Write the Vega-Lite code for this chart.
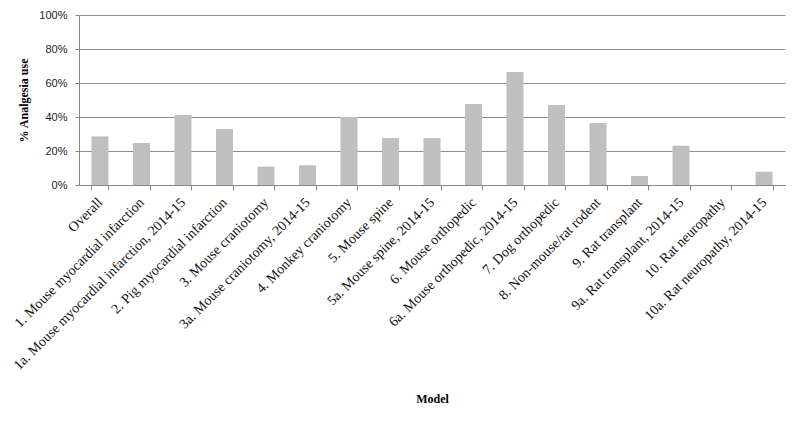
{
  "$schema": "https://vega.github.io/schema/vega-lite/v6.json",
  "width": 706,
  "height": 170,
  "autosize": {"type": "none"},
  "padding": {"left": 79, "top": 15, "right": 14, "bottom": 236},
  "background": "white",
  "data": {"values": [
    {"model": "Overall", "pct": 28.6},
    {"model": "1. Mouse myocardial infarction", "pct": 24.7},
    {"model": "1a. Mouse myocardial infarction, 2014-15", "pct": 41.2},
    {"model": "2. Pig myocardial infarction", "pct": 32.9},
    {"model": "3. Mouse craniotomy", "pct": 10.8},
    {"model": "3a. Mouse craniotomy, 2014-15", "pct": 11.6},
    {"model": "4. Monkey craniotomy", "pct": 40.0},
    {"model": "5. Mouse spine", "pct": 27.6},
    {"model": "5a. Mouse spine, 2014-15", "pct": 27.6},
    {"model": "6. Mouse orthopedic", "pct": 47.6},
    {"model": "6a. Mouse orthopedic, 2014-15", "pct": 66.5},
    {"model": "7. Dog orthopedic", "pct": 47.1},
    {"model": "8. Non-mouse/rat rodent", "pct": 36.5},
    {"model": "9. Rat transplant", "pct": 5.3},
    {"model": "9a. Rat transplant, 2014-15", "pct": 23.1},
    {"model": "10. Rat neuropathy", "pct": 0},
    {"model": "10a. Rat neuropathy, 2014-15", "pct": 7.8}
  ]},
  "mark": {"type": "bar", "color": "#bfbfbf"},
  "encoding": {
    "x": {
      "field": "model", "type": "nominal", "sort": null,
      "scale": {"paddingInner": 0.59, "paddingOuter": 0.3},
      "axis": {
        "title": "Model",
        "titleFont": "Liberation Serif", "titleFontSize": 12, "titleFontWeight": "bold", "titleColor": "#000",
        "titleY": 217, "titleBaseline": "alphabetic",
        "labelAngle": -45, "labelAlign": "right", "labelBaseline": "middle",
        "labelFont": "Liberation Serif", "labelFontSize": 14, "labelColor": "#111",
        "labelPadding": 10, "labelOverlap": false, "labelLimit": 400,
        "tickBand": "extent", "tickSize": 5, "tickColor": "#868686",
        "domainColor": "#868686", "grid": false
      }
    },
    "y": {
      "field": "pct", "type": "quantitative",
      "scale": {"domain": [0, 100], "nice": false},
      "axis": {
        "title": "% Analgesia use",
        "titleFont": "Liberation Serif", "titleFontSize": 12, "titleFontWeight": "bold", "titleColor": "#000",
        "titlePadding": 8,
        "values": [0, 20, 40, 60, 80, 100],
        "labelExpr": "datum.value + '%'",
        "labelFont": "Liberation Sans", "labelFontSize": 11, "labelColor": "#222",
        "labelPadding": 8,
        "tickSize": 4, "tickColor": "#868686",
        "domainColor": "#868686",
        "grid": true, "gridColor": "#8f8f8f", "gridWidth": 1
      }
    }
  },
  "config": {"view": {"stroke": null}}
}
